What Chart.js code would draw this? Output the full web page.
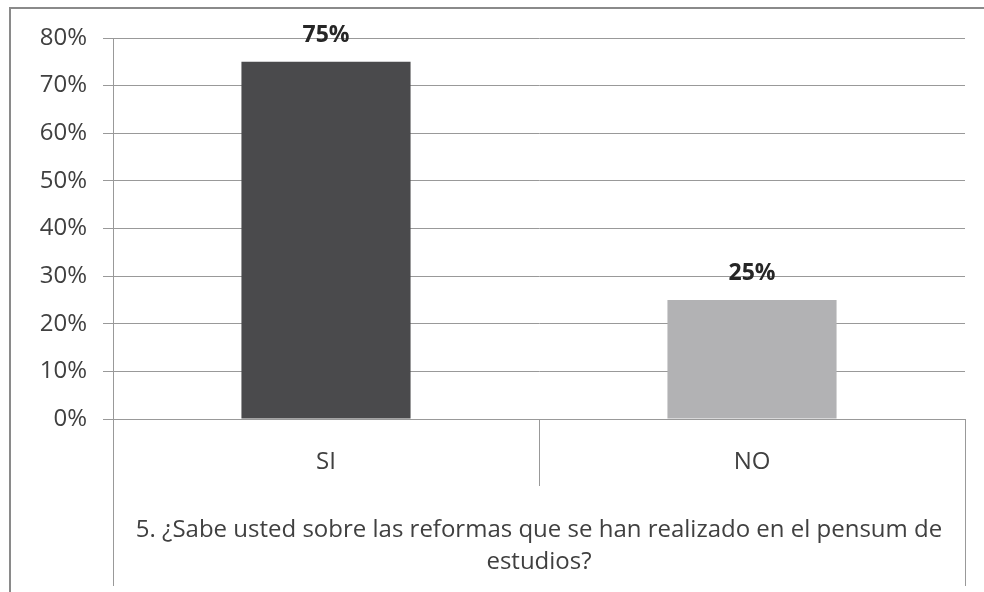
<!DOCTYPE html>
<html>
<head>
<meta charset="utf-8">
<script src="https://cdn.jsdelivr.net/npm/chart.js@4/dist/chart.umd.min.js"></script>
<style>
  html, body { margin: 0; padding: 0; background: #fff; }
  #wrap { width: 984px; height: 592px; position: relative; }
</style>
</head>
<body>
<div id="wrap"><canvas id="c" width="984" height="592"></canvas></div>
<script>
const categories = ['SI', 'NO'];
const values = [75, 25];
const barColors = ['#4a4a4c', '#b2b2b4'];
const yTicks = [0, 10, 20, 30, 40, 50, 60, 70, 80];
const titleLines = ['5. ¿Sabe usted sobre las reformas que se han realizado en el pensum de', 'estudios?'];

const FONT = "'Open Sans', sans-serif";
const LINE = '#999999';

const framePlugin = {
  id: 'frame',
  beforeDraw(chart) {
    const ctx = chart.ctx;
    ctx.save();
    ctx.fillStyle = '#ffffff';
    ctx.fillRect(0, 0, chart.width, chart.height);
    ctx.strokeStyle = '#8a8a8a';
    ctx.lineWidth = 2;
    ctx.beginPath();
    ctx.moveTo(10, chart.height);
    ctx.lineTo(10, 8);
    ctx.lineTo(chart.width, 8);
    ctx.stroke();
    ctx.restore();
  },
  afterDraw(chart) {
    const ctx = chart.ctx;
    const a = chart.chartArea;
    const x = chart.scales.x;
    ctx.save();
    ctx.strokeStyle = LINE;
    ctx.lineWidth = 1;
    const half = (x.getPixelForValue(1) - x.getPixelForValue(0)) / 2;
    const mid = x.getPixelForValue(0) + half;
    ctx.beginPath();
    ctx.moveTo(Math.round(a.left) + 0.5, a.bottom);
    ctx.lineTo(Math.round(a.left) + 0.5, 586);
    ctx.moveTo(Math.round(a.right) + 0.5, a.bottom);
    ctx.lineTo(Math.round(a.right) + 0.5, 586);
    ctx.moveTo(Math.round(mid) + 0.5, a.bottom);
    ctx.lineTo(Math.round(mid) + 0.5, 486);
    ctx.stroke();
    // data labels
    ctx.fillStyle = '#262626';
    ctx.font = "bold 23px " + FONT;
    ctx.textAlign = 'center';
    ctx.textBaseline = 'alphabetic';
    const meta = chart.getDatasetMeta(0);
    meta.data.forEach((bar, i) => {
      ctx.fillText(values[i] + '%', bar.x, bar.y - 20);
    });
    ctx.restore();
  }
};

new Chart(document.getElementById('c'), {
  type: 'bar',
  data: {
    labels: categories,
    datasets: [{
      data: values,
      backgroundColor: barColors,
      borderWidth: 0,
      barPercentage: 0.397,
      categoryPercentage: 1.0
    }]
  },
  options: {
    responsive: false,
    animation: false,
    events: [],
    layout: { padding: { top: 38, right: 19, bottom: 0, left: 0 } },
    plugins: {
      legend: { display: false },
      tooltip: { enabled: false },
      title: {
        display: true,
        position: 'bottom',
        fullSize: false,
        text: titleLines,
        color: '#404040',
        font: { family: FONT, size: 24, weight: 'normal', lineHeight: '32px' },
        padding: { top: 0, bottom: 14 }
      }
    },
    scales: {
      x: {
        afterFit(s) { s.height = 95; },
        grid: { display: false, drawOnChartArea: false, drawTicks: false },
        border: { display: true, color: LINE, width: 1 },
        ticks: { color: '#404040', font: { family: FONT, size: 24 }, padding: 29 }
      },
      y: {
        min: 0,
        max: 80,
        afterFit(s) { s.width = 113; },
        afterBuildTicks(s) { s.ticks = yTicks.map(v => ({ value: v })); },
        grid: { color: LINE, lineWidth: 1, tickLength: 10, drawTicks: true },
        border: { display: true, color: LINE, width: 1 },
        ticks: {
          color: '#404040',
          font: { family: FONT, size: 24 },
          padding: 16,
          callback: v => v + '%'
        }
      }
    }
  },
  plugins: [framePlugin]
});
</script>
</body>
</html>
